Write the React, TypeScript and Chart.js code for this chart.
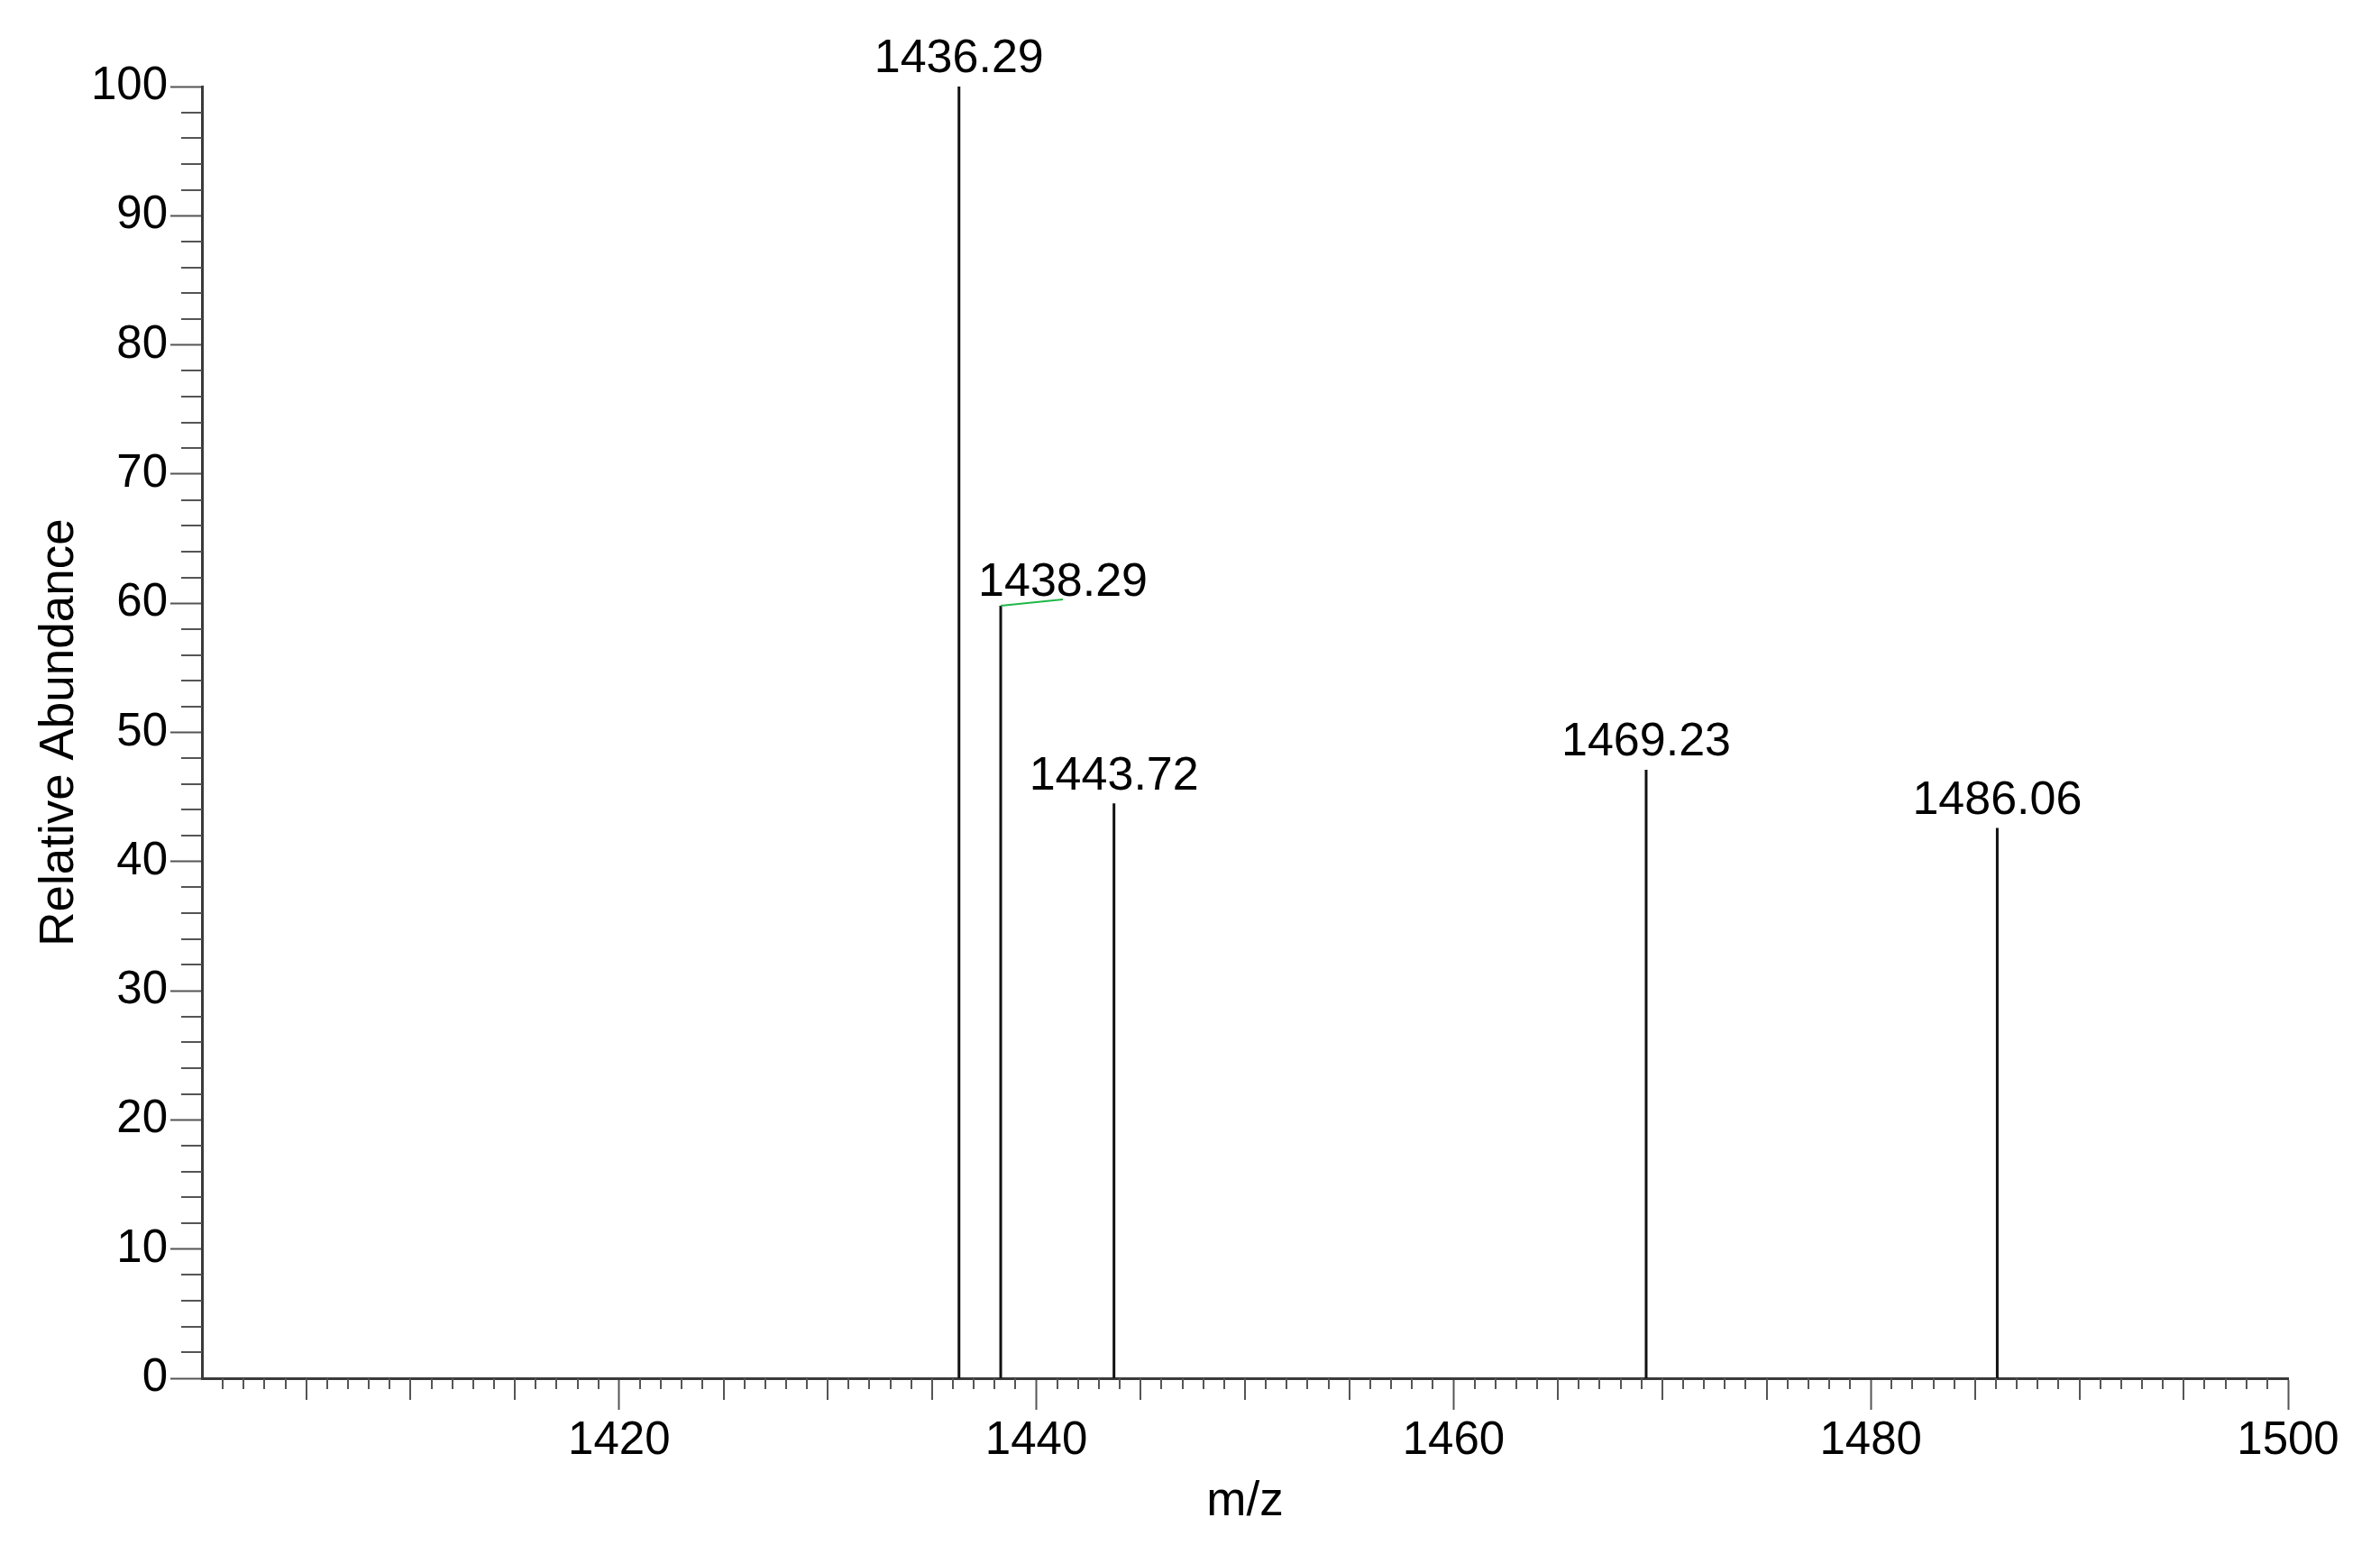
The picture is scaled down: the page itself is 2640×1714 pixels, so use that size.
import React, { useEffect, useRef } from "react";
import { Chart, registerables } from "chart.js";

Chart.register(...registerables);

// ---- data ----
const peakMz = [1436.29, 1438.29, 1443.72, 1469.23, 1486.06];
const peakAbundance = [100, 59.8, 44.5, 47.1, 42.6];
const peakLabels = ["1436.29", "1438.29", "1443.72", "1469.23", "1486.06"];
const xRange = [1400, 1500];
const yRange = [0, 100];
const xLabelStep = 20;
const yLabelStep = 10;

const FONT = '"Liberation Sans", Arial, Helvetica, sans-serif';
const FONT_SIZE = 51;
const LABEL_SIZE = 52;
const TITLE_SIZE = 53;
const AXIS_COLOR = "#3a3a3a";
const TICK_COLOR = "#555555";

// label placement tweaks (index -> offset), peak 1 uses a leader line
const labelOffsets: Record<number, { dx: number; dy: number; leader?: boolean }> = {
  1: { dx: 69, dy: -25, leader: true },
};

const minorTicksPlugin = {
  id: "minorTicks",
  afterDraw(chart: any) {
    const ctx = chart.ctx;
    const xs = chart.scales.x;
    const ys = chart.scales.y;
    const { left, bottom } = chart.chartArea;
    ctx.save();
    ctx.strokeStyle = TICK_COLOR;
    ctx.lineWidth = 2;
    ctx.beginPath();
    for (let v = xRange[0] + 1; v < xRange[1]; v++) {
      if (v % xLabelStep === 0) continue;
      const len = v % 5 === 0 ? 24 : 12;
      const px = Math.round(xs.getPixelForValue(v));
      ctx.moveTo(px, bottom);
      ctx.lineTo(px, bottom + len);
    }
    for (let v = yRange[0] + 2; v < yRange[1]; v += 2) {
      if (v % yLabelStep === 0) continue;
      const py = Math.round(ys.getPixelForValue(v));
      ctx.moveTo(left, py);
      ctx.lineTo(left - 23, py);
    }
    ctx.stroke();
    ctx.restore();
  },
};

const peakLabelPlugin = {
  id: "peakLabels",
  afterDatasetsDraw(chart: any) {
    const ctx = chart.ctx;
    const xs = chart.scales.x;
    const ys = chart.scales.y;
    ctx.save();
    ctx.font = `${LABEL_SIZE}px ${FONT}`;
    ctx.fillStyle = "#000";
    ctx.textAlign = "center";
    ctx.textBaseline = "middle";
    peakMz.forEach((mz, i) => {
      const px = xs.getPixelForValue(mz);
      const py = ys.getPixelForValue(peakAbundance[i]);
      const off = labelOffsets[i] || { dx: 0, dy: -30 };
      if (off.leader) {
        ctx.save();
        ctx.strokeStyle = "#1fb84a";
        ctx.lineWidth = 2;
        ctx.beginPath();
        ctx.moveTo(px, py);
        ctx.lineTo(px + off.dx, py - 7);
        ctx.stroke();
        ctx.restore();
      }
      ctx.fillText(peakLabels[i], px + off.dx, py + off.dy);
    });
    ctx.restore();
  },
};

export default function App() {
  const canvasRef = useRef<HTMLCanvasElement | null>(null);

  useEffect(() => {
    if (!canvasRef.current) return;
    const sticks: { x: number; y: number | null }[] = [];
    peakMz.forEach((mz, i) => {
      sticks.push({ x: mz, y: 0 });
      sticks.push({ x: mz, y: peakAbundance[i] });
      sticks.push({ x: mz, y: null });
    });

    const chart = new Chart(canvasRef.current, {
      type: "line",
      data: {
        datasets: [
          {
            data: sticks as any,
            borderColor: "#111",
            borderWidth: 3,
            pointRadius: 0,
            spanGaps: false,
            tension: 0,
          },
        ],
      },
      options: {
        responsive: false,
        animation: false,
        events: [],
        layout: { padding: { left: 0, right: 102, top: 96, bottom: 0 } },
        plugins: {
          legend: { display: false },
          tooltip: { enabled: false },
        },
        scales: {
          x: {
            type: "linear",
            min: xRange[0],
            max: xRange[1],
            afterBuildTicks: (scale: any) => {
              const t = [];
              for (let v = xRange[0] + xLabelStep; v <= xRange[1]; v += xLabelStep) t.push({ value: v });
              scale.ticks = t;
            },
            afterFit: (scale: any) => {
              scale.height = 185;
              scale.paddingLeft = 0;
              scale.paddingRight = 0;
            },
            grid: {
              display: true,
              drawOnChartArea: false,
              drawTicks: true,
              tickLength: 35,
              tickColor: TICK_COLOR,
              tickWidth: 2,
            },
            border: { display: true, color: AXIS_COLOR, width: 3 },
            ticks: {
              font: { family: FONT, size: FONT_SIZE },
              color: "#000",
              padding: 4,
              maxRotation: 0,
              autoSkip: false,
              callback: (v: any) => String(v),
            },
            title: {
              display: true,
              text: "m/z",
              font: { family: FONT, size: TITLE_SIZE },
              color: "#000",
              padding: { top: 0, bottom: 16 },
            },
          },
          y: {
            type: "linear",
            min: yRange[0],
            max: yRange[1],
            afterBuildTicks: (scale: any) => {
              const t = [];
              for (let v = yRange[0]; v <= yRange[1]; v += yLabelStep) t.push({ value: v });
              scale.ticks = t;
            },
            afterFit: (scale: any) => {
              scale.width = 224;
              scale.paddingTop = 0;
              scale.paddingBottom = 0;
            },
            grid: {
              display: true,
              drawOnChartArea: false,
              drawTicks: true,
              tickLength: 35,
              tickColor: TICK_COLOR,
              tickWidth: 2,
            },
            border: { display: true, color: AXIS_COLOR, width: 3 },
            ticks: {
              font: { family: FONT, size: FONT_SIZE },
              color: "#000",
              padding: 3,
              autoSkip: false,
              callback: (v: any) => String(v),
            },
            title: {
              display: true,
              text: "Relative Abundance",
              font: { family: FONT, size: TITLE_SIZE },
              color: "#000",
              padding: { top: 35, bottom: 0 },
            },
          },
        },
      },
      plugins: [minorTicksPlugin, peakLabelPlugin],
    });

    return () => chart.destroy();
  }, []);

  return (
    <div style={{ position: "absolute", left: 0, top: 0, width: 2640, height: 1714, background: "#fff" }}>
      <canvas ref={canvasRef} width={2640} height={1714} style={{ display: "block" }} />
    </div>
  );
}
